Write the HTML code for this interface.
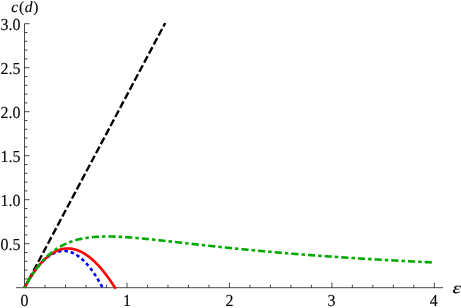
<!DOCTYPE html>
<html><head><meta charset="utf-8"><title>plot</title>
<style>
html,body{margin:0;padding:0;background:#fff;}
body{width:461px;height:308px;overflow:hidden;}
svg{display:block;will-change:transform;}
text{text-rendering:geometricPrecision;font-family:"Liberation Serif",serif;font-size:16.8px;fill:#000;stroke:#000;stroke-width:0.12;}
.ax line{stroke:#1a1a1a;stroke-width:0.8;}
.c{fill:none;stroke-width:2.6;}
</style></head><body>
<svg width="461" height="308" viewBox="0 0 461 308">
<rect width="461" height="308" fill="#fff"/>
<g class="ax">
<line x1="16.1" y1="287.70" x2="443" y2="287.70"/>
<line x1="24.53" y1="287.70" x2="24.53" y2="23.70"/>
<line x1="45.02" y1="287.70" x2="45.02" y2="284.70"/>
<line x1="65.51" y1="287.70" x2="65.51" y2="284.70"/>
<line x1="86.00" y1="287.70" x2="86.00" y2="284.70"/>
<line x1="106.49" y1="287.70" x2="106.49" y2="284.70"/>
<line x1="126.98" y1="287.70" x2="126.98" y2="282.70"/>
<line x1="147.47" y1="287.70" x2="147.47" y2="284.70"/>
<line x1="167.96" y1="287.70" x2="167.96" y2="284.70"/>
<line x1="188.45" y1="287.70" x2="188.45" y2="284.70"/>
<line x1="208.94" y1="287.70" x2="208.94" y2="284.70"/>
<line x1="229.43" y1="287.70" x2="229.43" y2="282.70"/>
<line x1="249.92" y1="287.70" x2="249.92" y2="284.70"/>
<line x1="270.41" y1="287.70" x2="270.41" y2="284.70"/>
<line x1="290.90" y1="287.70" x2="290.90" y2="284.70"/>
<line x1="311.39" y1="287.70" x2="311.39" y2="284.70"/>
<line x1="331.88" y1="287.70" x2="331.88" y2="282.70"/>
<line x1="352.37" y1="287.70" x2="352.37" y2="284.70"/>
<line x1="372.86" y1="287.70" x2="372.86" y2="284.70"/>
<line x1="393.35" y1="287.70" x2="393.35" y2="284.70"/>
<line x1="413.84" y1="287.70" x2="413.84" y2="284.70"/>
<line x1="434.33" y1="287.70" x2="434.33" y2="282.70"/>
<line x1="24.53" y1="278.90" x2="27.53" y2="278.90"/>
<line x1="24.53" y1="270.10" x2="27.53" y2="270.10"/>
<line x1="24.53" y1="261.30" x2="27.53" y2="261.30"/>
<line x1="24.53" y1="252.50" x2="27.53" y2="252.50"/>
<line x1="24.53" y1="243.70" x2="29.53" y2="243.70"/>
<line x1="24.53" y1="234.90" x2="27.53" y2="234.90"/>
<line x1="24.53" y1="226.10" x2="27.53" y2="226.10"/>
<line x1="24.53" y1="217.30" x2="27.53" y2="217.30"/>
<line x1="24.53" y1="208.50" x2="27.53" y2="208.50"/>
<line x1="24.53" y1="199.70" x2="29.53" y2="199.70"/>
<line x1="24.53" y1="190.90" x2="27.53" y2="190.90"/>
<line x1="24.53" y1="182.10" x2="27.53" y2="182.10"/>
<line x1="24.53" y1="173.30" x2="27.53" y2="173.30"/>
<line x1="24.53" y1="164.50" x2="27.53" y2="164.50"/>
<line x1="24.53" y1="155.70" x2="29.53" y2="155.70"/>
<line x1="24.53" y1="146.90" x2="27.53" y2="146.90"/>
<line x1="24.53" y1="138.10" x2="27.53" y2="138.10"/>
<line x1="24.53" y1="129.30" x2="27.53" y2="129.30"/>
<line x1="24.53" y1="120.50" x2="27.53" y2="120.50"/>
<line x1="24.53" y1="111.70" x2="29.53" y2="111.70"/>
<line x1="24.53" y1="102.90" x2="27.53" y2="102.90"/>
<line x1="24.53" y1="94.10" x2="27.53" y2="94.10"/>
<line x1="24.53" y1="85.30" x2="27.53" y2="85.30"/>
<line x1="24.53" y1="76.50" x2="27.53" y2="76.50"/>
<line x1="24.53" y1="67.70" x2="29.53" y2="67.70"/>
<line x1="24.53" y1="58.90" x2="27.53" y2="58.90"/>
<line x1="24.53" y1="50.10" x2="27.53" y2="50.10"/>
<line x1="24.53" y1="41.30" x2="27.53" y2="41.30"/>
<line x1="24.53" y1="32.50" x2="27.53" y2="32.50"/>
<line x1="24.53" y1="23.70" x2="29.53" y2="23.70"/>
</g>
<g>
<text transform="translate(24.53,306.35) scale(0.95,1)" text-anchor="middle">0</text>
<text transform="translate(126.98,306.35) scale(0.95,1)" text-anchor="middle">1</text>
<text transform="translate(229.43,306.35) scale(0.95,1)" text-anchor="middle">2</text>
<text transform="translate(331.48,306.35) scale(0.95,1)" text-anchor="middle">3</text>
<text transform="translate(433.78,306.35) scale(0.95,1)" text-anchor="middle">4</text>
<text transform="translate(20.5,249.60) scale(0.95,1)" text-anchor="end">0.5</text>
<text transform="translate(20.5,205.60) scale(0.95,1)" text-anchor="end">1.0</text>
<text transform="translate(20.5,161.60) scale(0.95,1)" text-anchor="end">1.5</text>
<text transform="translate(20.5,117.60) scale(0.95,1)" text-anchor="end">2.0</text>
<text transform="translate(20.5,73.60) scale(0.95,1)" text-anchor="end">2.5</text>
<text transform="translate(20.5,29.60) scale(0.95,1)" text-anchor="end">3.0</text>
<text transform="translate(11.3,12.2)" style="font-size:15.5px;letter-spacing:0.7px"><tspan font-style="italic">c</tspan>(<tspan font-style="italic">d</tspan>)</text>
<text transform="translate(452.6,293.1) scale(1.28,0.93)" font-style="italic">ε</text>
</g>
<path class="c" style="stroke-width:2.35" stroke="#000" stroke-dasharray="7.4 2.85" stroke-dashoffset="1.4" d="M24.53,287.70 L165.25,23.00"/>
<path class="c" stroke="#0000ff" stroke-dasharray="3.4 3" stroke-dashoffset="0.7" d="M24.53,287.70 L24.92,286.96 L25.32,286.23 L25.71,285.51 L26.11,284.80 L26.50,284.09 L26.89,283.39 L27.29,282.69 L27.68,282.01 L28.08,281.33 L28.47,280.66 L28.86,280.00 L29.26,279.34 L29.65,278.70 L30.05,278.05 L30.44,277.42 L30.83,276.80 L31.23,276.18 L31.62,275.57 L32.02,274.96 L32.41,274.37 L32.80,273.78 L33.20,273.20 L33.59,272.63 L33.99,272.06 L34.38,271.50 L34.77,270.95 L35.17,270.41 L35.56,269.87 L35.96,269.34 L36.35,268.82 L36.74,268.31 L37.14,267.80 L37.53,267.30 L37.93,266.81 L38.32,266.33 L38.71,265.85 L39.11,265.38 L39.50,264.92 L39.90,264.47 L40.29,264.02 L40.68,263.58 L41.08,263.15 L41.47,262.73 L41.87,262.31 L42.26,261.90 L42.65,261.50 L43.05,261.11 L43.44,260.72 L43.84,260.34 L44.23,259.97 L44.62,259.61 L45.02,259.25 L45.41,258.90 L45.81,258.56 L46.20,258.22 L46.59,257.90 L46.99,257.58 L47.38,257.27 L47.78,256.96 L48.17,256.66 L48.56,256.38 L48.96,256.09 L49.35,255.82 L49.75,255.55 L50.14,255.29 L50.53,255.04 L50.93,254.80 L51.32,254.56 L51.72,254.33 L52.11,254.11 L52.50,253.89 L52.90,253.69 L53.29,253.49 L53.69,253.29 L54.08,253.11 L54.47,252.93 L54.87,252.76 L55.26,252.60 L55.66,252.45 L56.05,252.30 L56.44,252.16 L56.84,252.03 L57.23,251.90 L57.63,251.79 L58.02,251.68 L58.41,251.57 L58.81,251.48 L59.20,251.39 L59.60,251.31 L59.99,251.24 L60.38,251.18 L60.78,251.12 L61.17,251.07 L61.57,251.03 L61.96,250.99 L62.35,250.96 L62.75,250.95 L63.14,250.93 L63.54,250.93 L63.93,250.93 L64.32,250.94 L64.72,250.96 L65.11,250.98 L65.51,251.02 L65.90,251.06 L66.29,251.11 L66.69,251.16 L67.08,251.22 L67.48,251.29 L67.87,251.37 L68.26,251.46 L68.66,251.55 L69.05,251.65 L69.45,251.76 L69.84,251.87 L70.23,252.00 L70.63,252.13 L71.02,252.26 L71.42,252.41 L71.81,252.56 L72.20,252.72 L72.60,252.89 L72.99,253.07 L73.39,253.25 L73.78,253.44 L74.17,253.64 L74.57,253.84 L74.96,254.06 L75.36,254.28 L75.75,254.50 L76.14,254.74 L76.54,254.98 L76.93,255.23 L77.33,255.49 L77.72,255.76 L78.11,256.03 L78.51,256.31 L78.90,256.60 L79.30,256.89 L79.69,257.20 L80.08,257.51 L80.48,257.83 L80.87,258.15 L81.27,258.48 L81.66,258.83 L82.05,259.17 L82.45,259.53 L82.84,259.89 L83.24,260.26 L83.63,260.64 L84.02,261.03 L84.42,261.42 L84.81,261.82 L85.21,262.23 L85.60,262.65 L85.99,263.07 L86.39,263.50 L86.78,263.94 L87.18,264.39 L87.57,264.84 L87.96,265.30 L88.36,265.77 L88.75,266.24 L89.15,266.73 L89.54,267.22 L89.93,267.72 L90.33,268.22 L90.72,268.74 L91.12,269.26 L91.51,269.79 L91.90,270.33 L92.30,270.87 L92.69,271.42 L93.09,271.98 L93.48,272.55 L93.87,273.12 L94.27,273.70 L94.66,274.29 L95.06,274.89 L95.45,275.49 L95.84,276.10 L96.24,276.72 L96.63,277.35 L97.03,277.98 L97.42,278.63 L97.81,279.28 L98.21,279.93 L98.60,280.60 L98.99,281.27 L99.39,281.95 L99.78,282.64 L100.18,283.33 L100.57,284.03 L100.96,284.74 L101.36,285.46 L101.75,286.18 L102.15,286.92 L102.54,287.66 L102.93,288.40"/>
<path class="c" stroke="#ff0000" d="M24.53,287.70 L24.99,286.84 L25.45,286.00 L25.90,285.16 L26.36,284.34 L26.82,283.52 L27.28,282.71 L27.74,281.92 L28.19,281.13 L28.65,280.36 L29.11,279.59 L29.57,278.83 L30.02,278.09 L30.48,277.35 L30.94,276.62 L31.40,275.91 L31.86,275.20 L32.31,274.50 L32.77,273.81 L33.23,273.14 L33.69,272.47 L34.15,271.81 L34.60,271.16 L35.06,270.52 L35.52,269.89 L35.98,269.27 L36.43,268.66 L36.89,268.06 L37.35,267.47 L37.81,266.89 L38.27,266.32 L38.72,265.75 L39.18,265.20 L39.64,264.66 L40.10,264.12 L40.56,263.60 L41.01,263.08 L41.47,262.57 L41.93,262.08 L42.39,261.59 L42.84,261.11 L43.30,260.64 L43.76,260.18 L44.22,259.73 L44.68,259.29 L45.13,258.86 L45.59,258.43 L46.05,258.02 L46.51,257.61 L46.97,257.22 L47.42,256.83 L47.88,256.45 L48.34,256.09 L48.80,255.73 L49.26,255.38 L49.71,255.03 L50.17,254.70 L50.63,254.38 L51.09,254.06 L51.54,253.76 L52.00,253.46 L52.46,253.17 L52.92,252.89 L53.38,252.62 L53.83,252.36 L54.29,252.11 L54.75,251.86 L55.21,251.63 L55.67,251.40 L56.12,251.18 L56.58,250.97 L57.04,250.77 L57.50,250.58 L57.95,250.39 L58.41,250.22 L58.87,250.05 L59.33,249.89 L59.79,249.74 L60.24,249.60 L60.70,249.47 L61.16,249.35 L61.62,249.23 L62.08,249.12 L62.53,249.02 L62.99,248.93 L63.45,248.85 L63.91,248.78 L64.37,248.71 L64.82,248.65 L65.28,248.60 L65.74,248.56 L66.20,248.53 L66.65,248.51 L67.11,248.49 L67.57,248.48 L68.03,248.48 L68.49,248.49 L68.94,248.51 L69.40,248.53 L69.86,248.56 L70.32,248.60 L70.78,248.65 L71.23,248.71 L71.69,248.77 L72.15,248.84 L72.61,248.92 L73.06,249.01 L73.52,249.11 L73.98,249.21 L74.44,249.32 L74.90,249.44 L75.35,249.57 L75.81,249.70 L76.27,249.84 L76.73,249.99 L77.19,250.15 L77.64,250.32 L78.10,250.49 L78.56,250.67 L79.02,250.86 L79.47,251.06 L79.93,251.26 L80.39,251.47 L80.85,251.69 L81.31,251.92 L81.76,252.15 L82.22,252.39 L82.68,252.64 L83.14,252.90 L83.60,253.16 L84.05,253.43 L84.51,253.71 L84.97,253.99 L85.43,254.29 L85.89,254.59 L86.34,254.90 L86.80,255.21 L87.26,255.53 L87.72,255.86 L88.17,256.20 L88.63,256.54 L89.09,256.89 L89.55,257.25 L90.01,257.62 L90.46,257.99 L90.92,258.37 L91.38,258.75 L91.84,259.15 L92.30,259.55 L92.75,259.95 L93.21,260.37 L93.67,260.79 L94.13,261.22 L94.58,261.65 L95.04,262.09 L95.50,262.54 L95.96,263.00 L96.42,263.46 L96.87,263.93 L97.33,264.41 L97.79,264.89 L98.25,265.38 L98.71,265.87 L99.16,266.38 L99.62,266.89 L100.08,267.40 L100.54,267.93 L101.00,268.45 L101.45,268.99 L101.91,269.53 L102.37,270.08 L102.83,270.64 L103.28,271.20 L103.74,271.77 L104.20,272.34 L104.66,272.92 L105.12,273.51 L105.57,274.11 L106.03,274.71 L106.49,275.31 L106.95,275.93 L107.41,276.55 L107.86,277.17 L108.32,277.81 L108.78,278.44 L109.24,279.09 L109.69,279.74 L110.15,280.40 L110.61,281.06 L111.07,281.73 L111.53,282.40 L111.98,283.09 L112.44,283.77 L112.90,284.47 L113.36,285.17 L113.82,285.87 L114.27,286.59 L114.73,287.30 L115.19,288.03 L115.65,288.76"/>
<path class="c" stroke="#00aa00" stroke-dasharray="7.2 3 3.5 3" stroke-dashoffset="11.9" d="M24.53,287.70 L25.56,285.79 L26.58,283.94 L27.61,282.13 L28.64,280.37 L29.67,278.66 L30.69,277.00 L31.72,275.39 L32.75,273.82 L33.77,272.30 L34.80,270.83 L35.83,269.40 L36.85,268.01 L37.88,266.67 L38.91,265.37 L39.94,264.12 L40.96,262.90 L41.99,261.73 L43.02,260.59 L44.04,259.50 L45.07,258.44 L46.10,257.42 L47.13,256.43 L48.15,255.48 L49.18,254.57 L50.21,253.68 L51.23,252.83 L52.26,252.01 L53.29,251.23 L54.31,250.47 L55.34,249.74 L56.37,249.04 L57.40,248.37 L58.42,247.72 L59.45,247.10 L60.48,246.51 L61.50,245.94 L62.53,245.39 L63.56,244.87 L64.59,244.37 L65.61,243.89 L66.64,243.43 L67.67,242.99 L68.69,242.57 L69.72,242.18 L70.75,241.80 L71.78,241.43 L72.80,241.09 L73.83,240.76 L74.86,240.45 L75.88,240.15 L76.91,239.87 L77.94,239.61 L78.96,239.35 L79.99,239.12 L81.02,238.89 L82.05,238.68 L83.07,238.48 L84.10,238.29 L85.13,238.12 L86.15,237.95 L87.18,237.80 L88.21,237.65 L89.24,237.52 L90.26,237.40 L91.29,237.28 L92.32,237.18 L93.34,237.08 L94.37,236.99 L95.40,236.92 L96.42,236.84 L97.45,236.78 L98.48,236.72 L99.51,236.67 L100.53,236.63 L101.56,236.59 L102.59,236.57 L103.61,236.54 L104.64,236.52 L105.67,236.51 L106.70,236.51 L107.72,236.50 L108.75,236.51 L109.78,236.52 L110.80,236.53 L111.83,236.55 L112.86,236.57 L113.88,236.60 L114.91,236.63 L115.94,236.66 L116.97,236.70 L117.99,236.75 L119.02,236.79 L120.05,236.84 L121.07,236.89 L122.10,236.95 L123.13,237.01 L124.16,237.07 L125.18,237.13 L126.21,237.20 L127.24,237.27 L128.26,237.34 L129.29,237.41 L130.32,237.49 L131.35,237.57 L132.37,237.65 L133.40,237.73 L134.43,237.82 L135.45,237.90 L136.48,237.99 L137.51,238.08 L138.53,238.17 L139.56,238.26 L140.59,238.36 L141.62,238.45 L142.64,238.55 L143.67,238.65 L144.70,238.75 L145.72,238.85 L146.75,238.95 L147.78,239.05 L148.81,239.15 L149.83,239.26 L150.86,239.36 L151.89,239.47 L152.91,239.58 L153.94,239.68 L154.97,239.79 L155.99,239.90 L157.02,240.01 L158.05,240.12 L159.08,240.23 L160.10,240.34 L161.13,240.46 L162.16,240.57 L163.18,240.68 L164.21,240.79 L165.24,240.91 L166.27,241.02 L167.29,241.14 L168.32,241.25 L169.35,241.36 L170.37,241.48 L171.40,241.59 L172.43,241.71 L173.45,241.82 L174.48,241.94 L175.51,242.06 L176.54,242.17 L177.56,242.29 L178.59,242.40 L179.62,242.52 L180.64,242.63 L181.67,242.75 L182.70,242.87 L183.73,242.98 L184.75,243.10 L185.78,243.21 L186.81,243.33 L187.83,243.44 L188.86,243.56 L189.89,243.68 L190.91,243.79 L191.94,243.91 L192.97,244.02 L194.00,244.14 L195.02,244.25 L196.05,244.36 L197.08,244.48 L198.10,244.59 L199.13,244.71 L200.16,244.82 L201.19,244.93 L202.21,245.05 L203.24,245.16 L204.27,245.27 L205.29,245.39 L206.32,245.50 L207.35,245.61 L208.38,245.72 L209.40,245.83 L210.43,245.94 L211.46,246.05 L212.48,246.17 L213.51,246.28 L214.54,246.39 L215.56,246.50 L216.59,246.60 L217.62,246.71 L218.65,246.82 L219.67,246.93 L220.70,247.04 L221.73,247.15 L222.75,247.25 L223.78,247.36 L224.81,247.47 L225.84,247.57 L226.86,247.68 L227.89,247.79 L228.92,247.89 L229.94,248.00 L230.97,248.10 L232.00,248.21 L233.02,248.31 L234.05,248.41 L235.08,248.52 L236.11,248.62 L237.13,248.72 L238.16,248.82 L239.19,248.93 L240.21,249.03 L241.24,249.13 L242.27,249.23 L243.30,249.33 L244.32,249.43 L245.35,249.53 L246.38,249.63 L247.40,249.73 L248.43,249.83 L249.46,249.92 L250.48,250.02 L251.51,250.12 L252.54,250.22 L253.57,250.31 L254.59,250.41 L255.62,250.51 L256.65,250.60 L257.67,250.70 L258.70,250.79 L259.73,250.89 L260.76,250.98 L261.78,251.07 L262.81,251.17 L263.84,251.26 L264.86,251.35 L265.89,251.45 L266.92,251.54 L267.95,251.63 L268.97,251.72 L270.00,251.81 L271.03,251.90 L272.05,251.99 L273.08,252.08 L274.11,252.17 L275.13,252.26 L276.16,252.35 L277.19,252.44 L278.22,252.52 L279.24,252.61 L280.27,252.70 L281.30,252.79 L282.32,252.87 L283.35,252.96 L284.38,253.05 L285.41,253.13 L286.43,253.22 L287.46,253.30 L288.49,253.39 L289.51,253.47 L290.54,253.55 L291.57,253.64 L292.59,253.72 L293.62,253.80 L294.65,253.89 L295.68,253.97 L296.70,254.05 L297.73,254.13 L298.76,254.21 L299.78,254.29 L300.81,254.37 L301.84,254.45 L302.87,254.53 L303.89,254.61 L304.92,254.69 L305.95,254.77 L306.97,254.85 L308.00,254.93 L309.03,255.01 L310.05,255.08 L311.08,255.16 L312.11,255.24 L313.14,255.31 L314.16,255.39 L315.19,255.47 L316.22,255.54 L317.24,255.62 L318.27,255.69 L319.30,255.77 L320.33,255.84 L321.35,255.92 L322.38,255.99 L323.41,256.06 L324.43,256.14 L325.46,256.21 L326.49,256.28 L327.51,256.35 L328.54,256.43 L329.57,256.50 L330.60,256.57 L331.62,256.64 L332.65,256.71 L333.68,256.78 L334.70,256.85 L335.73,256.92 L336.76,256.99 L337.79,257.06 L338.81,257.13 L339.84,257.20 L340.87,257.27 L341.89,257.34 L342.92,257.41 L343.95,257.47 L344.98,257.54 L346.00,257.61 L347.03,257.68 L348.06,257.74 L349.08,257.81 L350.11,257.87 L351.14,257.94 L352.16,258.01 L353.19,258.07 L354.22,258.14 L355.25,258.20 L356.27,258.27 L357.30,258.33 L358.33,258.40 L359.35,258.46 L360.38,258.52 L361.41,258.59 L362.44,258.65 L363.46,258.71 L364.49,258.77 L365.52,258.84 L366.54,258.90 L367.57,258.96 L368.60,259.02 L369.62,259.08 L370.65,259.15 L371.68,259.21 L372.71,259.27 L373.73,259.33 L374.76,259.39 L375.79,259.45 L376.81,259.51 L377.84,259.57 L378.87,259.63 L379.90,259.69 L380.92,259.74 L381.95,259.80 L382.98,259.86 L384.00,259.92 L385.03,259.98 L386.06,260.04 L387.08,260.09 L388.11,260.15 L389.14,260.21 L390.17,260.26 L391.19,260.32 L392.22,260.38 L393.25,260.43 L394.27,260.49 L395.30,260.55 L396.33,260.60 L397.36,260.66 L398.38,260.71 L399.41,260.77 L400.44,260.82 L401.46,260.88 L402.49,260.93 L403.52,260.98 L404.55,261.04 L405.57,261.09 L406.60,261.14 L407.63,261.20 L408.65,261.25 L409.68,261.30 L410.71,261.36 L411.73,261.41 L412.76,261.46 L413.79,261.51 L414.82,261.57 L415.84,261.62 L416.87,261.67 L417.90,261.72 L418.92,261.77 L419.95,261.82 L420.98,261.87 L422.01,261.92 L423.03,261.97 L424.06,262.02 L425.09,262.07 L426.11,262.12 L427.14,262.17 L428.17,262.22 L429.19,262.27 L430.22,262.32 L431.25,262.37 L432.28,262.42 L433.30,262.47 L434.33,262.52"/>
</svg>
</body></html>
